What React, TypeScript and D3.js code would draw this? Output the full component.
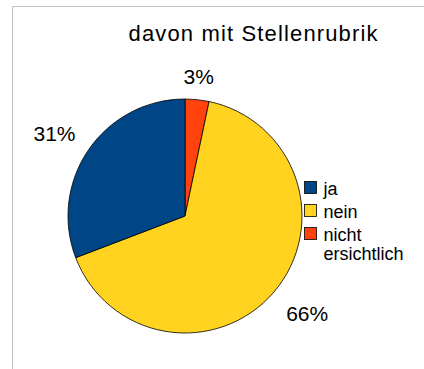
import React from "react";
import * as d3 from "d3";

const categories = ["ja", "nein", "nicht ersichtlich"];
const values = [30.8, 65.9, 3.3];
const labels = ["31%", "66%", "3%"];
const colors = ["#004586", "#ffd320", "#ff420e"];
// drawing order clockwise from 12 o'clock
const drawOrder = [2, 1, 0];

const W = 424;
const H = 369;
const cx = 185;
const cy = 216;
const R = 117;

export default function App() {
  const pie = d3
    .pie<number>()
    .sort(null)
    .value((i) => values[i])
    .startAngle(0)
    .endAngle(2 * Math.PI);
  const arcs = pie(drawOrder);
  const arc = d3.arc<any>().innerRadius(0).outerRadius(R);
  const font = "'Liberation Sans', Arial, sans-serif";

  return (
    <svg
      width={W}
      height={H}
      style={{ position: "absolute", left: 0, top: 0, background: "#fff" }}
      fontFamily={font}
    >
      <line x1={12.5} y1={6.5} x2={W} y2={6.5} stroke="#c0c0c0" strokeWidth={1} />
      <line x1={12.5} y1={6.5} x2={12.5} y2={H} stroke="#c0c0c0" strokeWidth={1} />
      <text x={253} y={41} fontSize={22} textAnchor="middle" fill="#000" textLength={249} lengthAdjust="spacing">
        davon mit Stellenrubrik
      </text>
      <g transform={`translate(${cx},${cy})`}>
        {arcs.map((a) => (
          <path key={a.data} d={arc(a) || ""} fill={colors[a.data]} stroke="#000" strokeWidth={0.8} />
        ))}
        {arcs.map((a) => {
          const mid = (a.startAngle + a.endAngle) / 2;
          const s = Math.sin(mid);
          const c = Math.cos(mid);
          const r = 133;
          const x = r * s;
          const y = -r * c;
          const anchor = Math.abs(s) < 0.3 ? "middle" : s > 0 ? "start" : "end";
          const dy = c > 0 ? 0 : 19;
          return (
            <text key={"l" + a.data} x={x} y={y + dy} fontSize={21} textAnchor={anchor} fill="#000">
              {labels[a.data]}
            </text>
          );
        })}
      </g>
      <g>
        {categories.map((cat, i) => (
          <g key={cat} transform={`translate(304.5,${181.5 + i * 23})`}>
            <rect width={12} height={12} fill={colors[i]} stroke="#000" strokeWidth={0.8} />
            {cat === "nicht ersichtlich" ? (
              <text x={19} y={13} fontSize={18} fill="#000">
                <tspan x={19}>nicht</tspan>
                <tspan x={19} dy={19}>ersichtlich</tspan>
              </text>
            ) : (
              <text x={19} y={13} fontSize={18} fill="#000">
                {cat}
              </text>
            )}
          </g>
        ))}
      </g>
    </svg>
  );
}
